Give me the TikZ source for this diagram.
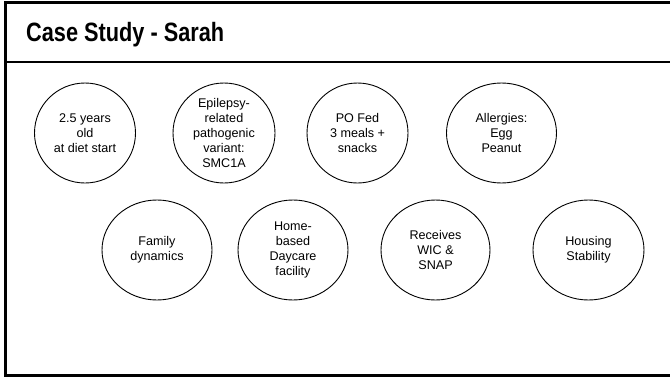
\documentclass[tikz,border=0pt]{standalone}
\usepackage{fontspec}
\setmainfont{Liberation Sans}
\newfontfamily\titlefont[FakeStretch=0.82]{Liberation Sans}
\usetikzlibrary{shapes.geometric}

\tikzset{
  frameline/.style={line width=3pt, black},
  factor/.style={ellipse, draw, line width=0.9pt, inner sep=0pt,
    minimum height=100pt, align=center,
    font=\fontsize{12.6}{15}\selectfont},
}

\begin{document}
\begin{tikzpicture}[x=1pt, y=-1pt]
  \useasboundingbox (0,0) rectangle (670,378);
  \fill[white] (0,0) rectangle (670,378);

  % slide frame and header rule
  \draw[frameline] (5.5,2.5) -- (670,2.5);
  \draw[frameline] (5.5,1) -- (5.5,377);
  \draw[frameline] (4,375.5) -- (670,375.5);
  \draw[line width=1.5pt] (5.5,62) -- (670,62);

  % title
  \node[anchor=base west, inner sep=0pt,
        font=\titlefont\bfseries\fontsize{26.5}{30}\selectfont] (title)
    at (26,41.5) {Case Study - Sarah};

  % first row of factors
  \node[factor, minimum width=101pt] (age)  at (85,133)
    {2.5 years\\old\\at diet start};
  \node[factor, minimum width=102pt] (gene) at (224,133)
    {Epilepsy-\\related\\pathogenic\\variant:\\SMC1A};
  \node[factor, minimum width=101pt] (feed) at (357.5,133)
    {PO Fed\\3 meals +\\snacks};
  \node[factor, minimum width=110pt] (allergy) at (501.5,133)
    {Allergies:\\Egg\\Peanut};

  % second row of factors
  \node[factor, minimum width=110pt] (family)  at (157,250)
    {Family\\dynamics};
  \node[factor, minimum width=110pt] (daycare) at (293,250)
    {Home-\\based\\Daycare\\facility};
  \node[factor, minimum width=109pt] (wic)     at (435.5,250)
    {Receives\\WIC \&\\SNAP};
  \node[factor, minimum width=111pt] (housing) at (588.5,250)
    {Housing\\Stability};
\end{tikzpicture}
\end{document}
